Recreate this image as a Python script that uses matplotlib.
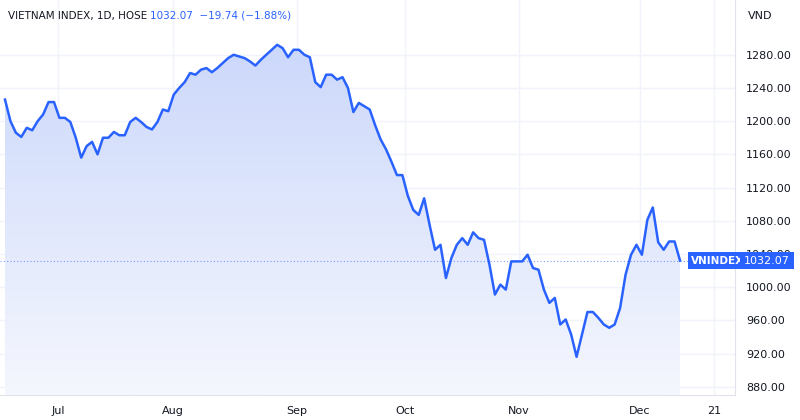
import matplotlib.pyplot as plt
import numpy as np
from matplotlib.colors import LinearSegmentedColormap
from matplotlib.patches import Polygon

# Daily closes, VN-Index (HOSE)
CLOSES = [
    1226, 1200, 1186, 1181, 1192, 1189, 1200, 1208, 1223, 1223, 1204, 1204,
    1199, 1180, 1156, 1170, 1175, 1160, 1180, 1180, 1187, 1183, 1183, 1199,
    1204, 1199, 1193, 1190, 1199, 1214, 1212, 1232, 1240, 1247, 1258, 1256,
    1262, 1264, 1259, 1264, 1270, 1276, 1280, 1278, 1276, 1272, 1267, 1274,
    1280, 1286, 1292, 1288, 1277, 1286, 1286, 1280, 1277, 1247, 1241, 1256,
    1256, 1250, 1253, 1240, 1211, 1222, 1218, 1214, 1195, 1178, 1166, 1151,
    1135, 1135, 1110, 1093, 1087, 1107, 1075, 1045, 1051, 1011, 1035, 1051,
    1059, 1051, 1066, 1059, 1057, 1027, 991, 1003, 997, 1031, 1031, 1031,
    1039, 1023, 1021, 997, 981, 987, 955, 961, 943, 916, 943, 970,
    970, 963, 955, 951, 955, 975, 1015, 1039, 1051, 1039, 1081, 1096,
    1054, 1045, 1055, 1055, 1032.07,
]
MONTH_LABELS = ["Jul", "Aug", "Sep", "Oct", "Nov", "Dec", "21"]
MONTH_PX = [58, 173, 297, 405, 519, 640, 714]   # label centres in the picture
Y_TICKS = np.arange(880, 1281, 40)

LAST = CLOSES[-1]
BLUE = "#2962ff"
TXT = "#131722"

n = len(CLOSES)
step = 675 / (n - 1)                 # pixels per trading day
month_pos = [(p - 5) / step for p in MONTH_PX]

fig = plt.figure(figsize=(8, 4.2), dpi=100)
ax = fig.add_axes([0, 25 / 420, 735 / 800, 395 / 420])
x = np.arange(n)
ymin, ymax = 870, 1346
ax.set_xlim(-5 / step, 730 / step)
ax.set_ylim(ymin, ymax)
ax.set_axisbelow(True)

# gradient fill under the line
grad = np.linspace(0, 1, 256).reshape(-1, 1)
cmap = LinearSegmentedColormap.from_list("g", ["#f5f7fe", "#ccd8fb"])
img = ax.imshow(grad, extent=[x[0], x[-1], ymin, 1292], origin="lower",
                aspect="auto", cmap=cmap, zorder=1)
poly = Polygon(np.column_stack([np.r_[x, x[-1], x[0]],
                                np.r_[CLOSES, ymin, ymin]]),
               closed=True, transform=ax.transData)
img.set_clip_path(poly)
ax.plot(x, CLOSES, color=BLUE, lw=1.8, zorder=3)
ax.axhline(LAST, color=BLUE, lw=0.8, ls=(0, (1, 2)), alpha=0.6, zorder=2)

ax.set_xticks(month_pos)
ax.set_xticklabels(MONTH_LABELS)
ax.yaxis.tick_right()
ax.set_yticks(Y_TICKS)
ax.set_yticklabels([f"{v:.2f}" for v in Y_TICKS])
ax.tick_params(length=0, labelsize=8, colors=TXT, pad=8)
ax.grid(True, color="#f0f3fa", lw=1, zorder=0)
for s in ax.spines.values():
    s.set_visible(False)
ax.spines["right"].set_visible(True)
ax.spines["right"].set_color("#e0e3eb")
ax.spines["bottom"].set_visible(True)
ax.spines["bottom"].set_color("#e0e3eb")

fig.text(8 / 800, 1 - 16 / 420, "VIETNAM INDEX, 1D, HOSE",
         fontsize=7.5, color=TXT, va="center")
fig.text(150 / 800, 1 - 16 / 420, "1032.07  \u221219.74 (\u22121.88%)",
         fontsize=7.5, color=BLUE, va="center")
fig.text(748 / 800, 1 - 16 / 420, "VND", fontsize=8, color=TXT, va="center")

# last-value labels
ax.text(0.94, LAST, "VNINDEX", transform=ax.get_yaxis_transform(), fontsize=7.5,
        color="white", weight="bold", va="center", ha="left",
        bbox=dict(boxstyle="square,pad=0.3", fc=BLUE, ec="none"), zorder=5)
ax.text(1.012, LAST, "1032.07", transform=ax.get_yaxis_transform(), fontsize=8,
        color="white", va="center", ha="left", clip_on=False,
        bbox=dict(boxstyle="square,pad=0.35", fc=BLUE, ec="none"), zorder=5)

fig.savefig("out.png", dpi=100, facecolor="white")
